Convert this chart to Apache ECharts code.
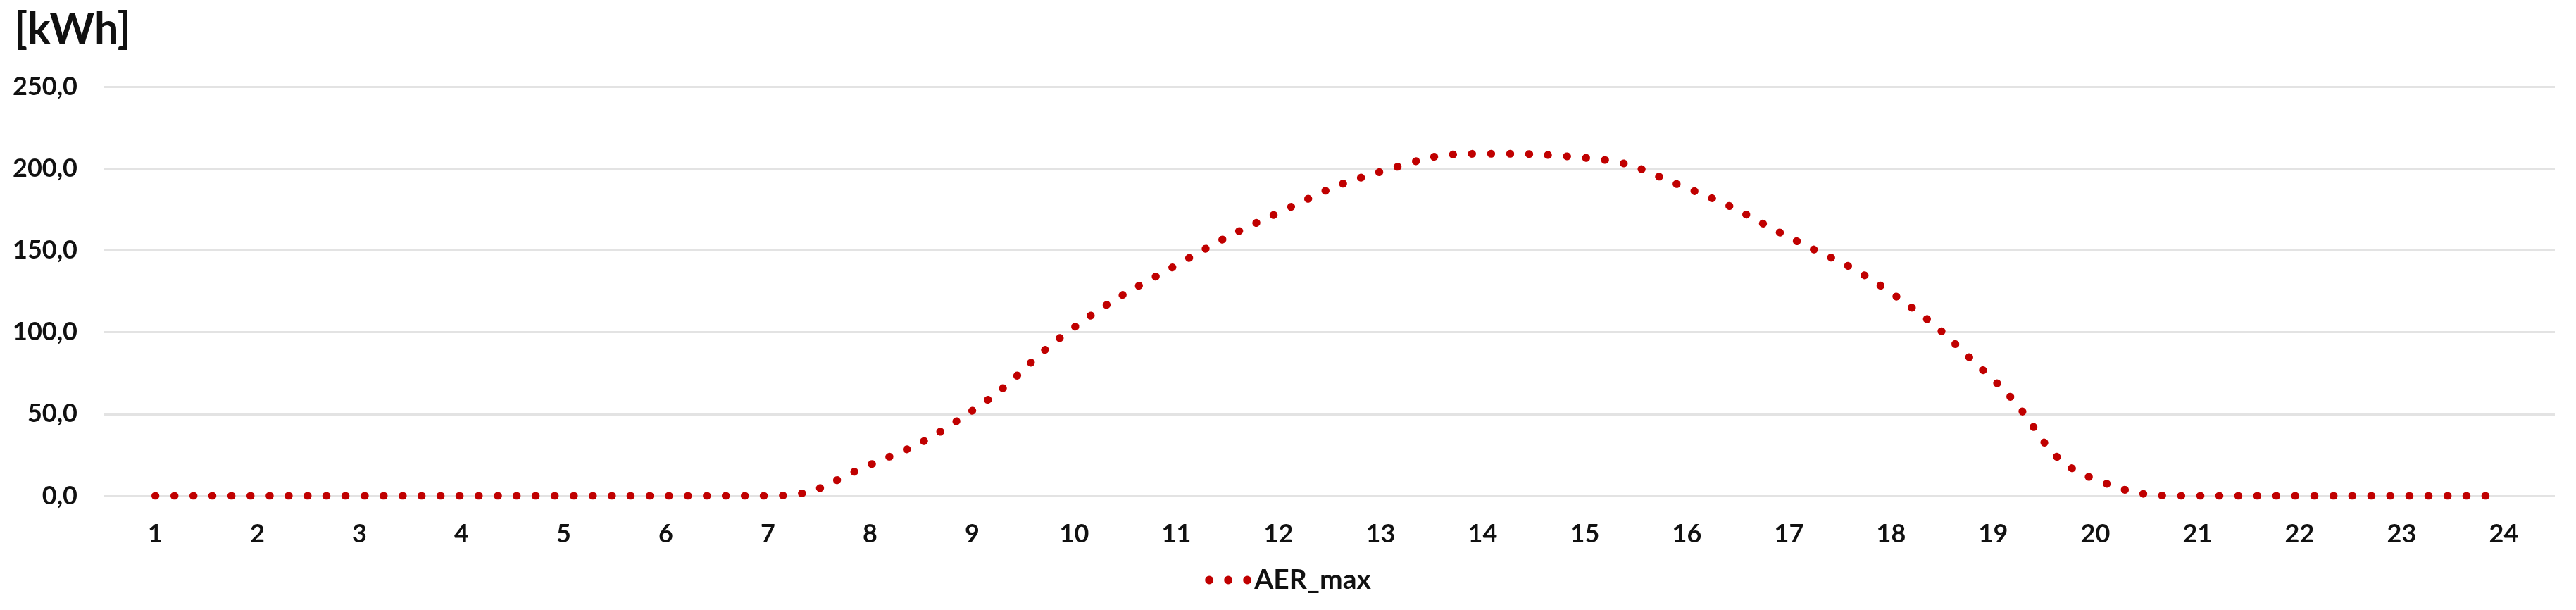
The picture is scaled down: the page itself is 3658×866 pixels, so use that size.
<!DOCTYPE html>
<html>
<head>
<meta charset="utf-8">
<script src="https://cdn.jsdelivr.net/npm/echarts@6/dist/echarts.min.js"></script>
<style>
  html, body { margin: 0; padding: 0; background: #ffffff; }
  #chart { width: 3658px; height: 866px; }
</style>
</head>
<body>
<div id="chart"></div>
<script>
// ---- data ----
const hours = ['1','2','3','4','5','6','7','8','9','10','11','12','13','14','15','16','17','18','19','20','21','22','23','24'];
const aerMax = [0, 0, 0, 0, 0, 0, 0, 19, 52, 103, 141, 173, 198, 209, 206.5, 188, 158, 124, 71, 10, 0, 0, 0, 0];
const seriesName = 'AER_max';
const unitLabel = '[kWh]';
const yMin = 0, yMax = 250, yStep = 50;

const FONT = 'Lato, "Open Sans", "Noto Sans", sans-serif';
const RED = '#C00000';

const chart = echarts.init(document.getElementById('chart'), null, { renderer: 'canvas' });
chart.setOption({
  backgroundColor: '#ffffff',
  animation: false,
  title: {
    text: unitLabel,
    left: 20,
    top: 12,
    padding: 0,
    textStyle: { fontFamily: FONT, fontWeight: 'bold', fontSize: 61, color: '#111111' }
  },
  legend: {
    bottom: 18,
    left: 'center',
    data: [seriesName],
    icon: 'path://M0,6a6,6 0 1,0 12,0a6,6 0 1,0 -12,0zM27,6a6,6 0 1,0 12,0a6,6 0 1,0 -12,0zM54,6a6,6 0 1,0 12,0a6,6 0 1,0 -12,0z',
    itemWidth: 66,
    itemHeight: 12,
    itemGap: 20,
    itemStyle: { color: RED, borderWidth: 0 },
    textStyle: { fontFamily: FONT, fontWeight: 'bold', fontSize: 39, color: '#111111', padding: [0, 0, 0, -1] }
  },
  grid: {
    left: 148,
    right: 30,
    top: 123,
    bottom: 162,
    containLabel: false,
    outerBoundsMode: 'none'
  },
  xAxis: {
    type: 'category',
    data: hours,
    boundaryGap: true,
    axisLine: { show: false },
    axisTick: { show: false },
    axisLabel: { fontFamily: FONT, fontWeight: 'bold', fontSize: 36, color: '#111111', margin: 36 },
    splitLine: { show: false }
  },
  yAxis: {
    type: 'value',
    min: yMin,
    max: yMax,
    interval: yStep,
    axisLine: { show: false },
    axisTick: { show: false },
    axisLabel: {
      fontFamily: FONT, fontWeight: 'bold', fontSize: 36, color: '#111111', margin: 38,
      formatter: v => v.toFixed(1).replace('.', ',')
    },
    splitLine: { show: true, lineStyle: { color: '#e3e3e3', width: 3 } }
  },
  series: [{
    name: seriesName,
    type: 'line',
    data: aerMax,
    smooth: true,
    symbol: 'none',
    showSymbol: false,
    color: RED,
    lineStyle: { color: RED, width: 11, type: [0.5, 26.5], cap: 'round' },
    z: 3
  }]
});
</script>
</body>
</html>
